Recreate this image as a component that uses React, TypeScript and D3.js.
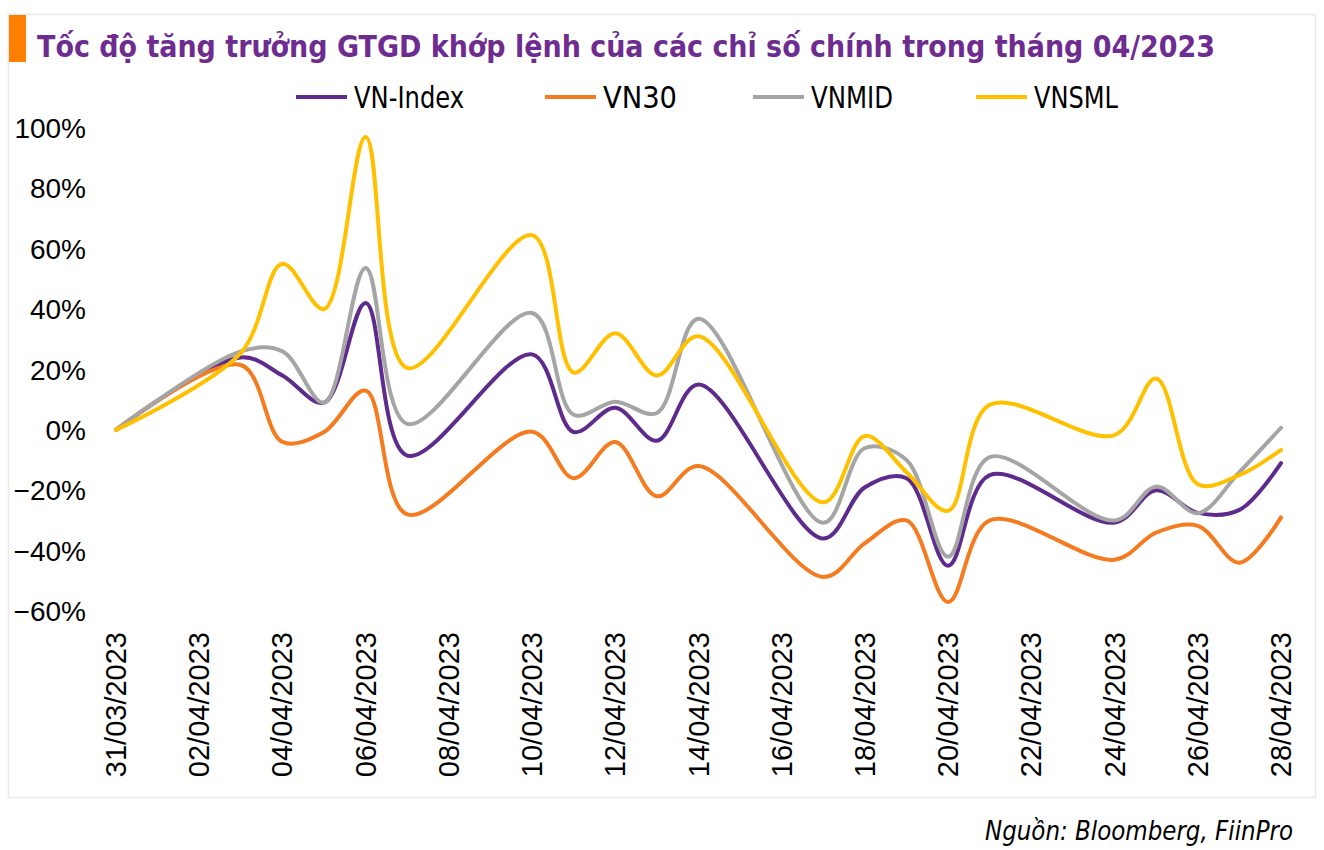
import React from "react";
import * as d3 from "d3";

const tradingDays = [
  "31/03/2023", "03/04/2023", "04/04/2023", "05/04/2023", "06/04/2023", "07/04/2023",
  "10/04/2023", "11/04/2023", "12/04/2023", "13/04/2023", "14/04/2023",
  "17/04/2023", "18/04/2023", "19/04/2023", "20/04/2023", "21/04/2023",
  "24/04/2023", "25/04/2023", "26/04/2023", "27/04/2023", "28/04/2023",
];

const vnIndex = [0, 24, 18, 9, 42, -8.5, 25, -0.7, 7.3, -3.6, 15, -36, -19, -16, -45, -15, -30.7, -20, -27.5, -26.5, -11];
const vn30 = [0, 21.5, -4, -0.7, 13, -28, -0.6, -16, -4, -22, -12, -48.7, -37.5, -30, -57, -30, -43, -34, -31.8, -44, -29];
const vnMid = [0, 26, 26, 9, 53.6, 2, 38.7, 5, 9.3, 5.6, 36.8, -30.8, -6, -10, -42, -9, -30, -18.8, -27.6, -14, 0.7];
const vnSml = [0, 25.5, 55, 40, 97, 20.5, 64.5, 19, 32, 18, 31, -24, -2, -14, -26.8, 8.3, -1.7, 17, -18, -15, -6.6];

const seriesNames = ["VN-Index", "VN30", "VNMID", "VNSML"];
const seriesColors = ["#5E2B8C", "#F47B20", "#A5A5A5", "#FFC000"];
const seriesValues = [vnIndex, vn30, vnMid, vnSml];

const xTickLabels = [
  "31/03/2023", "02/04/2023", "04/04/2023", "06/04/2023", "08/04/2023", "10/04/2023",
  "12/04/2023", "14/04/2023", "16/04/2023", "18/04/2023", "20/04/2023", "22/04/2023",
  "24/04/2023", "26/04/2023", "28/04/2023",
];
const yTicks = [1, 0.8, 0.6, 0.4, 0.2, 0, -0.2, -0.4, -0.6];

const titleText = "Tốc độ tăng trưởng GTGD khớp lệnh của các chỉ số chính trong tháng 04/2023";
const sourceText = "Nguồn: Bloomberg, FiinPro";

const parseDate = (s: string) => {
  const [d, m, y] = s.split("/").map(Number);
  return new Date(Date.UTC(y, m - 1, d));
};

const legendX = [296, 545, 753, 976];
const legendTextW = [110, 74, 82, 84];

export default function App() {
  const x = d3
    .scaleUtc()
    .domain([parseDate("31/03/2023"), parseDate("28/04/2023")])
    .range([116, 1281]);
  const y = d3.scaleLinear().domain([-0.6, 1.0]).range([611, 128]);
  const line = d3
    .line<[Date, number]>()
    .x((d) => x(d[0]))
    .y((d) => y(d[1] / 100))
    .curve(d3.curveCatmullRom.alpha(0.5));

  const narrow = "'Liberation Sans Narrow', 'DejaVu Sans Condensed', 'Arial Narrow', sans-serif";
  const sans = "'Liberation Sans', Arial, sans-serif";

  return (
    <svg
      width={1324}
      height={850}
      style={{ position: "absolute", left: 0, top: 0, background: "#fff" }}
    >
      <rect x={0} y={0} width={1324} height={850} fill="#fff" />
      <rect x={8.5} y={14.5} width={1307} height={783} fill="none" stroke="#E8E8E8" strokeWidth={1.5} />
      <rect x={9} y={15} width={17} height={47} fill="#FF8000" />
      <text
        x={37}
        y={57}
        fontFamily={narrow}
        fontWeight={700}
        fontSize={31}
        fill="#6E2C91"
        textLength={1178}
        lengthAdjust="spacingAndGlyphs"
      >
        {titleText}
      </text>

      {seriesNames.map((name, i) => (
        <g key={name}>
          <line
            x1={legendX[i]}
            x2={legendX[i] + 51}
            y1={97}
            y2={97}
            stroke={seriesColors[i]}
            strokeWidth={4}
          />
          <text
            x={legendX[i] + 58}
            y={108}
            fontFamily={narrow}
            fontSize={30}
            fill="#000"
            textLength={legendTextW[i]}
            lengthAdjust="spacingAndGlyphs"
          >
            {name}
          </text>
        </g>
      ))}

      {yTicks.map((t) => (
        <text
          key={t}
          x={86}
          y={y(t) + 10}
          textAnchor="end"
          fontFamily={sans}
          fontSize={28}
          fill="#000"
        >
          {d3.format(".0%")(t)}
        </text>
      ))}

      {xTickLabels.map((lbl) => {
        const px = x(parseDate(lbl));
        return (
          <text
            key={lbl}
            transform={`translate(${px + 10},632) rotate(-90)`}
            textAnchor="end"
            fontFamily={sans}
            fontSize={29}
            fill="#000"
          >
            {lbl}
          </text>
        );
      })}

      {seriesValues.map((vals, i) => {
        const pts: [Date, number][] = tradingDays.map((d, j) => [parseDate(d), vals[j]]);
        return (
          <path
            key={seriesNames[i]}
            d={line(pts) || ""}
            fill="none"
            stroke={seriesColors[i]}
            strokeWidth={4}
            strokeLinejoin="round"
            strokeLinecap="round"
          />
        );
      })}

      <text
        x={1293}
        y={840}
        textAnchor="end"
        fontFamily={narrow}
        fontStyle="italic"
        fontSize={27}
        fill="#000"
        textLength={308}
        lengthAdjust="spacingAndGlyphs"
      >
        {sourceText}
      </text>
    </svg>
  );
}
